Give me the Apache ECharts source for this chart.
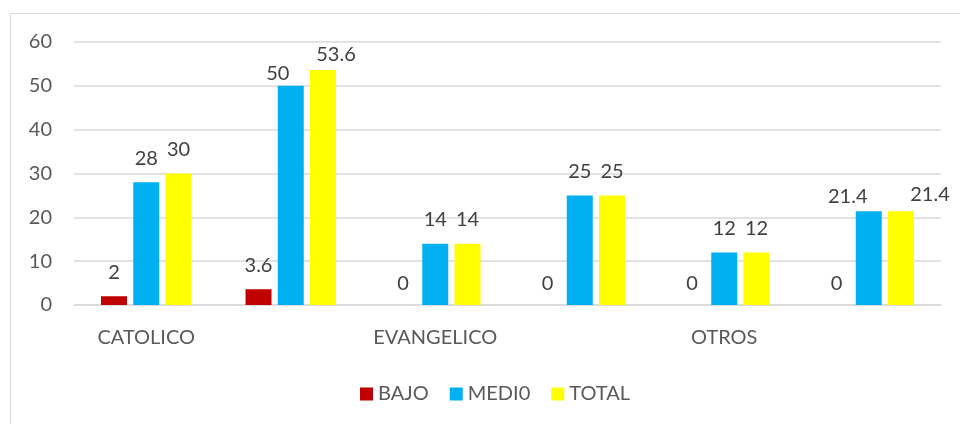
<!DOCTYPE html>
<html>
<head>
<meta charset="utf-8">
<script src="https://cdn.jsdelivr.net/npm/echarts@6/dist/echarts.min.js"></script>
<style>
  html, body { margin: 0; padding: 0; background: #fff; }
  #chart { width: 960px; height: 424px; }
</style>
</head>
<body>
<div id="chart"></div>
<script>
// categorias: solo cada otra lleva nombre
const categories = ["CATOLICO", "", "EVANGELICO", "", "OTROS", ""];
const bajo = [2, 3.6, 0, 0, 0, 0];
const medio = [28, 50, 14, 25, 12, 21.4];
const total = [30, 53.6, 14, 25, 12, 21.4];
const yTicks = [0, 10, 20, 30, 40, 50, 60];

const chart = echarts.init(document.getElementById("chart"));
const font = "Lato, 'Open Sans', sans-serif";

// etiquetas desplazadas como en el original
function withLabels(values, shifts) {
  return values.map((v, i) => {
    const s = shifts[i];
    return s ? { value: v, label: { offset: s } } : v;
  });
}

const labelStyle = {
  show: true,
  position: "top",
  distance: 14,
  color: "#404040",
  fontSize: 20,
  fontFamily: font,
};

const option = {
  animation: false,
  textStyle: { fontFamily: font },
  graphic: [
    {
      type: "rect",
      shape: { x: 10.5, y: 13.5, width: 970, height: 430 },
      style: { fill: "none", stroke: "#d9d9d9", lineWidth: 1 },
    },
  ],
  grid: { left: 74, right: 19, top: 42, bottom: 119 },
  legend: {
    left: 355,
    top: 379,
    itemWidth: 13,
    itemHeight: 13,
    itemGap: 21,
    icon: "rect",
    textStyle: { color: "#595959", fontSize: 20, fontFamily: font },
    data: ["BAJO", "MEDI0", "TOTAL"],
  },
  xAxis: {
    type: "category",
    data: categories,
    axisLine: { lineStyle: { color: "#d9d9d9", width: 1.5 } },
    axisTick: { show: false },
    axisLabel: {
      interval: 0,
      color: "#595959",
      fontSize: 20,
      fontFamily: font,
      margin: 23,
    },
  },
  yAxis: {
    type: "value",
    min: yTicks[0],
    max: yTicks[yTicks.length - 1],
    interval: 10,
    axisLine: { show: false },
    axisTick: { show: false },
    splitLine: { lineStyle: { color: "#d9d9d9", width: 1.5 } },
    axisLabel: { color: "#595959", fontSize: 20, fontFamily: font, margin: 22 },
  },
  series: [
    {
      name: "BAJO",
      type: "bar",
      data: withLabels(bajo, { 2: [0, 3], 3: [0, 3], 4: [0, 3], 5: [0, 3] }),
      itemStyle: { color: "#C00000" },
      barWidth: 26,
      barGap: "24%",
      barCategoryGap: "40%",
      label: labelStyle,
    },
    {
      name: "MEDI0",
      type: "bar",
      data: withLabels(medio, { 1: [-13, 12], 5: [-21, 9] }),
      itemStyle: { color: "#00B0F0" },
      barWidth: 26,
      barGap: "24%",
      label: labelStyle,
    },
    {
      name: "TOTAL",
      type: "bar",
      data: withLabels(total, { 1: [13, 8], 5: [29, 7] }),
      itemStyle: { color: "#FFFF00" },
      barWidth: 26,
      barGap: "24%",
      label: labelStyle,
    },
  ],
};

chart.setOption(option);
</script>
</body>
</html>
